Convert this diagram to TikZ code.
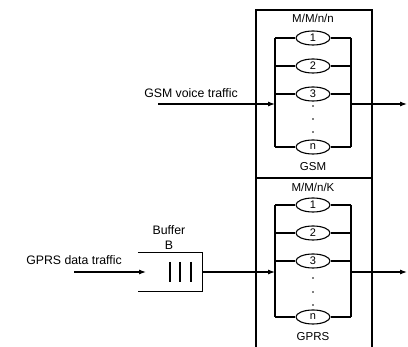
\documentclass[tikz,border=0pt]{standalone}
\usepackage{fontspec}
\setmainfont{Liberation Sans}
\usetikzlibrary{shapes.geometric,arrows.meta}

\begin{document}
\begin{tikzpicture}[
    x=1pt, y=-1pt,
    every node/.style={font=\fontsize{12.3}{14}\selectfont},
    server/.style={draw, ellipse, line width=1.1pt, fill=white, minimum width=34pt, minimum height=14pt, inner sep=0pt, font=\fontsize{11}{12}\selectfont},
    bus/.style={line width=1.1pt},
    frame/.style={line width=1.4pt},
    flow/.style={line width=1.1pt, -{Latex[length=7pt,width=5pt]}},
    caption/.style={font=\fontsize{11.5}{13}\selectfont},
    dot/.style={circle, fill=black, inner sep=0pt, minimum size=1.8pt},
    bar/.style={line width=1.5pt},
]
\useasboundingbox (0,0) rectangle (408,347);

% Frames
\draw[frame] (256,10) rectangle (372,178);
\draw[frame] (256,350) -- (256,178) -- (372,178) -- (372,350);

% GSM block (M/M/n/n)
\node[caption] (gsmtype) at (313,18) {M/M/n/n};
\coordinate (gl) at (275,104);
\coordinate (gr) at (351,104);
\node[server] (g1) at (313,38) {1};
\node[server] (g2) at (313,66) {2};
\node[server] (g3) at (313,94) {3};
\node[dot] (gd1) at (313,106) {};
\node[dot] (gd2) at (313,119) {};
\node[dot] (gd3) at (313,132) {};
\node[server] (gn) at (313,147) {n};
\node[caption] (gsmname) at (313,167) {GSM};
\draw[bus] (g1.west -| gl) -- (gn.west -| gl);
\draw[bus] (g1.east -| gr) -- (gn.east -| gr);
\draw[bus] (g1.west -| gl) -- (g1.west) (g1.east) -- (g1.east -| gr);
\draw[bus] (g2.west -| gl) -- (g2.west) (g2.east) -- (g2.east -| gr);
\draw[bus] (g3.west -| gl) -- (g3.west) (g3.east) -- (g3.east -| gr);
\draw[bus] (gn.west -| gl) -- (gn.west) (gn.east) -- (gn.east -| gr);

% GSM traffic in and out
\coordinate (gsrc) at (158,104);
\coordinate (gsink) at (407,104);
\node (gsmin) at (191,93) {GSM voice traffic};
\draw[flow] (gsrc) -- (gl);
\draw[flow] (gr) -- (gsink);

% GPRS block (M/M/n/K)
\node[caption] (gprstype) at (313,187) {M/M/n/K};
\coordinate (pl) at (275,272);
\coordinate (pr) at (351,272);
\node[server] (p1) at (313,205) {1};
\node[server] (p2) at (313,233) {2};
\node[server] (p3) at (313,261) {3};
\node[dot] (pd1) at (313,278) {};
\node[dot] (pd2) at (313,292) {};
\node[dot] (pd3) at (313,305) {};
\node[server] (pn) at (313,317) {n};
\node[caption] (gprsname) at (313,337) {GPRS};
\draw[bus] (p1.west -| pl) -- (pn.west -| pl);
\draw[bus] (p1.east -| pr) -- (pn.east -| pr);
\draw[bus] (p1.west -| pl) -- (p1.west) (p1.east) -- (p1.east -| pr);
\draw[bus] (p2.west -| pl) -- (p2.west) (p2.east) -- (p2.east -| pr);
\draw[bus] (p3.west -| pl) -- (p3.west) (p3.east) -- (p3.east -| pr);
\draw[bus] (pn.west -| pl) -- (pn.west) (pn.east) -- (pn.east -| pr);

% Buffer B
\node[minimum width=64pt, minimum height=38pt, inner sep=0pt] (buffer) at (170,272) {};
\draw[bus] (buffer.north west) -- (buffer.north east) -- (buffer.south east) -- (buffer.south west);
\draw[bar] (170,262) -- (170,282);
\draw[bar] (180,262) -- (180,282);
\draw[bar] (191,262) -- (191,282);
\node (bufname) at (169,230) {Buffer};
\node (bufsize) at (169,245) {B};

% GPRS traffic in and out
\coordinate (psrc) at (74,272);
\coordinate (bufin) at (146,272);
\coordinate (psink) at (407,272);
\node (gprsin) at (74,260) {GPRS data traffic};
\draw[flow] (psrc) -- (bufin);
\draw[flow] (buffer.east) -- (pl);
\draw[flow] (pr) -- (psink);

\end{tikzpicture}
\end{document}
